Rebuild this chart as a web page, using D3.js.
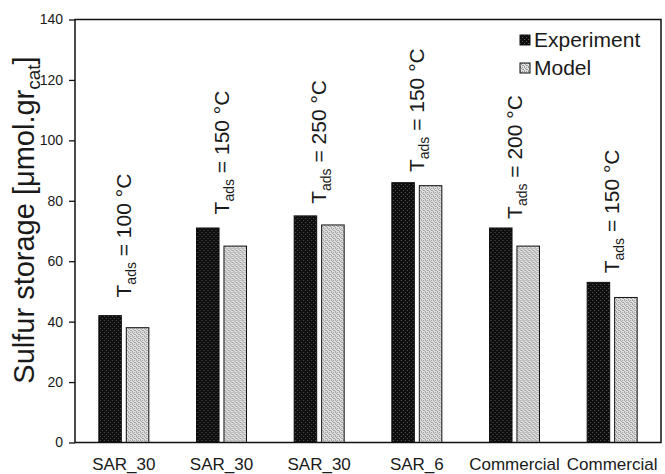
<!DOCTYPE html>
<html>
<head>
    <meta charset="utf-8">
    <title>Sulfur storage</title>
    <script src="https://cdn.jsdelivr.net/npm/d3@7/dist/d3.min.js"></script>
    <style>
        body { margin: 0; background: #fff; }
        text { font-family: "Liberation Sans", Arial, sans-serif; fill: #1a1a1a; }
    </style>
</head>
<body>
<script>
    // data
    var catalysts = ["SAR_30", "SAR_30", "SAR_30", "SAR_6", "Commercial", "Commercial"];
    var temps = ["100", "150", "250", "150", "200", "150"];
    var experiment = [42, 71, 75, 86, 71, 53];
    var model = [38, 65, 72, 85, 65, 48];
    var labelAt = [48, 75.5, 79, 89.5, 74, 56];   // where each rotated label starts (data units)
    var series = ["Experiment", "Model"];
    var yTicks = [0, 20, 40, 60, 80, 100, 120, 140];

    var W = 665, H = 474;
    // note: "top" is a reserved window property, so use plot* names
    var plotL = 75, plotR = 661, plotT = 19.5, plotB = 442.5;

    var svg = d3.select("body").append("svg")
        .attr("width", W).attr("height", H);

    // fill patterns
    var defs = svg.append("defs");
    var p1 = defs.append("pattern").attr("id", "dots")
        .attr("patternUnits", "userSpaceOnUse").attr("width", 4).attr("height", 4);
    p1.append("rect").attr("width", 4).attr("height", 4).attr("fill", "#0d0d0d");
    p1.append("rect").attr("x", 0).attr("y", 0).attr("width", 1).attr("height", 1).attr("fill", "#5a5a5a");
    p1.append("rect").attr("x", 2).attr("y", 2).attr("width", 1).attr("height", 1).attr("fill", "#5a5a5a");

    var p2 = defs.append("pattern").attr("id", "hatch")
        .attr("patternUnits", "userSpaceOnUse").attr("width", 4).attr("height", 4);
    p2.append("rect").attr("width", 4).attr("height", 4).attr("fill", "#e4e4e4");
    p2.append("path").attr("d", "M0,0h1v1h-1z M2,0h1v1h-1z M1,1h1v1h-1z M3,2h1v1h-1z M0,3h1v1h-1z M2,2h1v1h-1z")
        .attr("fill", "#9a9a9a");

    var fills = { "Experiment": "url(#dots)", "Model": "url(#hatch)" };

    var x = d3.scaleBand().domain(d3.range(catalysts.length)).range([plotL, plotR]).padding(0);
    var xs = d3.scaleBand().domain(series).range([-25, 25]).paddingInner(0.18);
    var y = d3.scaleLinear().domain([0, 140]).range([plotB, plotT]);

    // bars
    var groups = svg.selectAll(".grp").data(catalysts).enter().append("g")
        .attr("class", "grp")
        .attr("transform", function(d, i) { return "translate(" + (x(i) + x.bandwidth() / 2) + ",0)"; });

    groups.selectAll("rect").data(function(d, i) {
        return [{ s: "Experiment", v: experiment[i] }, { s: "Model", v: model[i] }];
    }).enter().append("rect")
        .attr("x", function(d) { return xs(d.s); })
        .attr("y", function(d) { return y(d.v); })
        .attr("width", xs.bandwidth())
        .attr("height", function(d) { return plotB - y(d.v); })
        .attr("fill", function(d) { return fills[d.s]; })
        .attr("stroke", "#111").attr("stroke-width", 1);

    // rotated temperature labels
    groups.append("text")
        .attr("transform", function(d, i) { return "translate(7," + y(labelAt[i]) + ") rotate(-90)"; })
        .attr("font-size", 21)
        .each(function(d, i) {
            var t = d3.select(this);
            t.append("tspan").text("T");
            t.append("tspan").attr("font-size", 14).attr("dy", 5).text("ads");
            t.append("tspan").attr("dy", -5).text(" = " + temps[i] + " \u00B0C");
        });

    // axes
    var yAxis = d3.axisLeft(y).tickValues(yTicks).tickSize(6).tickPadding(6);
    var gy = svg.append("g").attr("transform", "translate(" + plotL + ",0)").call(yAxis);
    gy.select(".domain").remove();
    gy.selectAll("line").attr("stroke", "#111").attr("stroke-width", 1.3);
    gy.selectAll("text").attr("font-size", 14).attr("font-family", "Liberation Sans, Arial, sans-serif").attr("fill", "#1a1a1a");

    svg.selectAll(".cat").data(catalysts).enter().append("text")
        .attr("class", "cat")
        .attr("x", function(d, i) { return x(i) + x.bandwidth() / 2; })
        .attr("y", 470)
        .attr("text-anchor", "middle")
        .attr("font-size", 17)
        .text(function(d) { return d; });

    // frame
    svg.append("rect")
        .attr("x", plotL).attr("y", plotT)
        .attr("width", plotR - plotL).attr("height", plotB - plotT)
        .attr("fill", "none").attr("stroke", "#111").attr("stroke-width", 1.5);

    // y label
    var yl = svg.append("text")
        .attr("transform", "translate(34,220) rotate(-90)")
        .attr("text-anchor", "middle")
        .attr("font-size", 29);
    yl.append("tspan").text("Sulfur storage [\u03BCmol.gr");
    yl.append("tspan").attr("font-size", 19).attr("dy", 6).text("cat");
    yl.append("tspan").attr("dy", -6).text("]");

    // legend
    var leg = svg.selectAll(".leg").data(series).enter().append("g")
        .attr("class", "leg")
        .attr("transform", function(d, i) { return "translate(520," + (35 + i * 28) + ")"; });
    leg.append("rect").attr("width", 10).attr("height", 10)
        .attr("fill", function(d) { return fills[d]; })
        .attr("stroke", "#111").attr("stroke-width", 1);
    leg.append("text").attr("x", 14).attr("y", 12)
        .attr("font-size", 21)
        .text(function(d) { return d; });
</script>
</body>
</html>
